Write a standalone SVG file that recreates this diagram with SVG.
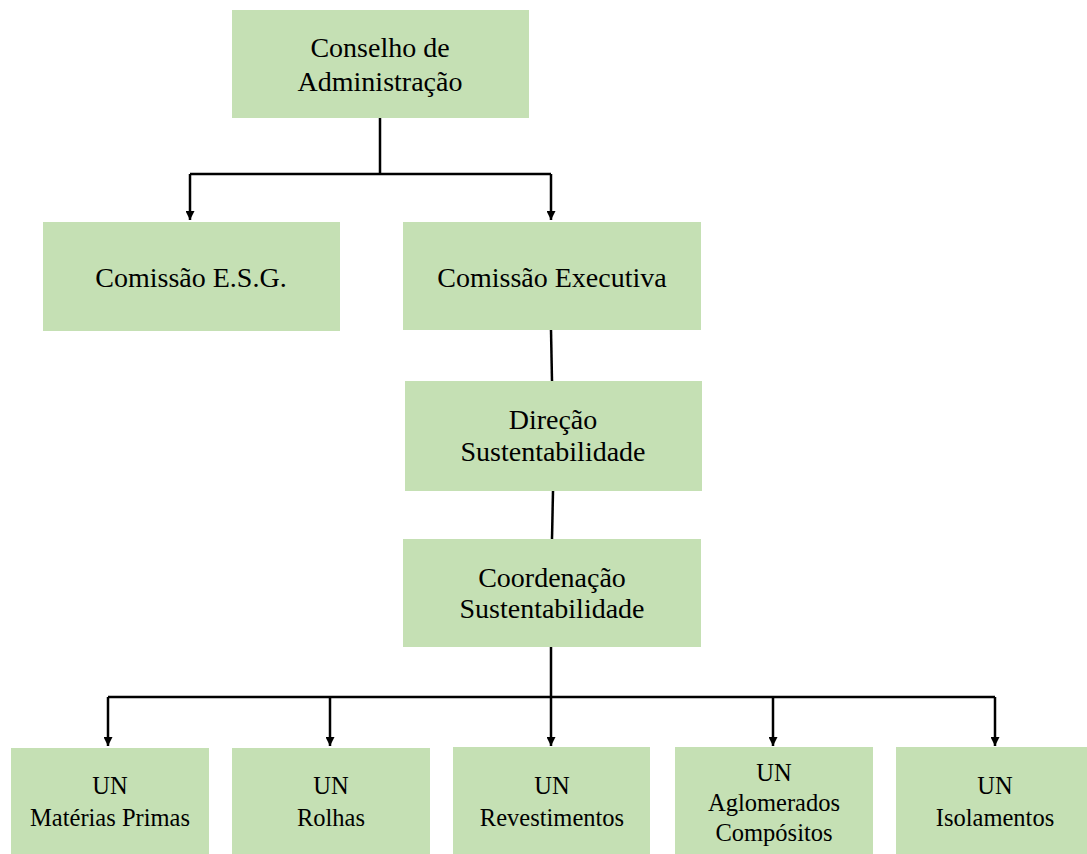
<svg xmlns="http://www.w3.org/2000/svg" width="1087" height="854" viewBox="0 0 1087 854">
<style>
.box{fill:#C5E0B4;}
.t{font-family:'Liberation Serif','Times New Roman','DejaVu Serif',serif;fill:#000;text-anchor:middle;}
.big{font-size:28px;}
.small{font-size:24.5px;}
.ln{fill:none;stroke:#000;stroke-width:2.5;}
</style>
<defs>
<marker id="ah" viewBox="0 0 10 10" refX="10" refY="5" markerWidth="3.6" markerHeight="3.6" orient="auto" markerUnits="strokeWidth">
<path d="M0,0 L10,5 L0,10 z" fill="#000"/>
</marker>
</defs>
<rect width="1087" height="854" fill="#fff"/>
<g id="connectors">
<path class="ln" d="M380,118 V174 M190,174 H551"/>
<path class="ln" d="M190,174 V220" marker-end="url(#ah)"/>
<path class="ln" d="M551,174 V220" marker-end="url(#ah)"/>
<path class="ln" d="M551,330 L552,381"/>
<path class="ln" d="M553,491 L552,539"/>
<path class="ln" d="M551,647 V697 M108,697 H995"/>
<path class="ln" d="M108,697 V746" marker-end="url(#ah)"/>
<path class="ln" d="M330,697 V746" marker-end="url(#ah)"/>
<path class="ln" d="M551,697 V746" marker-end="url(#ah)"/>
<path class="ln" d="M773,697 V746" marker-end="url(#ah)"/>
<path class="ln" d="M995,697 V746" marker-end="url(#ah)"/>
</g>
<g id="conselho">
<rect class="box" x="232" y="10" width="297" height="108"/>
<text class="t big" x="380" y="57">Conselho de</text>
<text class="t big" x="380" y="91">Administração</text>
</g>
<g id="esg">
<rect class="box" x="43" y="222" width="297" height="109"/>
<text class="t big" x="191" y="287">Comissão E.S.G.</text>
</g>
<g id="executiva">
<rect class="box" x="403" y="222" width="298" height="108"/>
<text class="t big" x="552" y="287">Comissão Executiva</text>
</g>
<g id="direcao">
<rect class="box" x="405" y="381" width="297" height="110"/>
<text class="t big" x="553" y="429">Direção</text>
<text class="t big" x="553" y="461">Sustentabilidade</text>
</g>
<g id="coordenacao">
<rect class="box" x="403" y="539" width="298" height="108"/>
<text class="t big" x="552" y="587">Coordenação</text>
<text class="t big" x="552" y="618">Sustentabilidade</text>
</g>
<g id="un-materias">
<rect class="box" x="11" y="748" width="198" height="106"/>
<text class="t small" x="110" y="794">UN</text>
<text class="t small" x="110" y="826">Matérias Primas</text>
</g>
<g id="un-rolhas">
<rect class="box" x="232" y="748" width="198" height="106"/>
<text class="t small" x="331" y="794">UN</text>
<text class="t small" x="331" y="826">Rolhas</text>
</g>
<g id="un-revestimentos">
<rect class="box" x="453" y="747" width="197" height="107"/>
<text class="t small" x="552" y="794">UN</text>
<text class="t small" x="552" y="826">Revestimentos</text>
</g>
<g id="un-aglomerados">
<rect class="box" x="675" y="747" width="198" height="107"/>
<text class="t small" x="774" y="781">UN</text>
<text class="t small" x="774" y="811">Aglomerados</text>
<text class="t small" x="774" y="841">Compósitos</text>
</g>
<g id="un-isolamentos">
<rect class="box" x="896" y="747" width="191" height="107"/>
<text class="t small" x="995" y="794">UN</text>
<text class="t small" x="995" y="826">Isolamentos</text>
</g>
</svg>
